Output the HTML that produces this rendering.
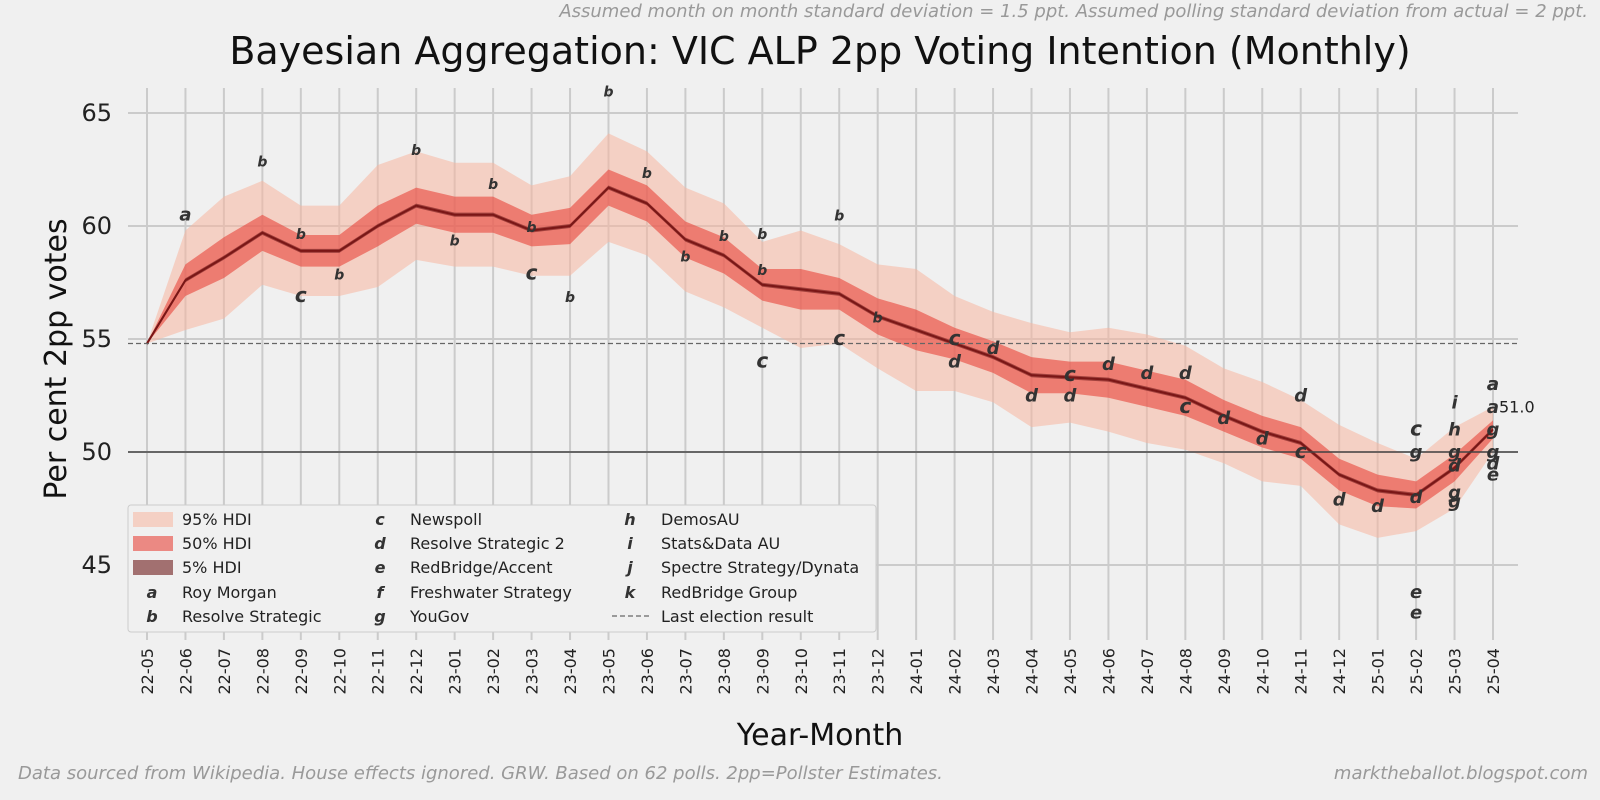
<!DOCTYPE html>
<html><head><meta charset="utf-8">
<style>
html,body{margin:0;padding:0;background:#f0f0f0;overflow:hidden;width:1600px;height:800px;}
svg{display:block;font-family:"DejaVu Sans","Liberation Sans",sans-serif;}
</style></head>
<body>
<svg id="chart" width="1600" height="800" viewBox="0 0 1600 800">
<rect width="1600" height="800" fill="#f0f0f0"/>
<text x="1588" y="17" text-anchor="end" font-size="18" font-style="oblique" fill="#999">Assumed month on month standard deviation = 1.5 ppt. Assumed polling standard deviation from actual = 2 ppt.</text>
<text x="820" y="64" text-anchor="middle" font-size="38" fill="#111">Bayesian Aggregation: VIC ALP 2pp Voting Intention (Monthly)</text>
<text transform="translate(66,359) rotate(-90)" text-anchor="middle" font-size="30" fill="#111">Per cent 2pp votes</text>
<text x="820" y="745" text-anchor="middle" font-size="30" fill="#111">Year-Month</text>
<text x="18" y="779" font-size="18" font-style="oblique" fill="#999">Data sourced from Wikipedia. House effects ignored. GRW. Based on 62 polls. 2pp=Pollster Estimates.</text>
<text x="1588" y="779" text-anchor="end" font-size="18" font-style="oblique" fill="#999">marktheballot.blogspot.com</text>
<g id="grid"></g><g id="bands"></g><g id="polls"></g><g id="axes"></g>
</svg>
<script>
const months=["22-05","22-06","22-07","22-08","22-09","22-10","22-11","22-12","23-01","23-02","23-03","23-04","23-05","23-06","23-07","23-08","23-09","23-10","23-11","23-12","24-01","24-02","24-03","24-04","24-05","24-06","24-07","24-08","24-09","24-10","24-11","24-12","25-01","25-02","25-03","25-04"];
const median=[54.8,57.6,58.6,59.7,58.9,58.9,60.0,60.9,60.5,60.5,59.8,60.0,61.7,61.0,59.4,58.7,57.4,57.2,57.0,56.0,55.4,54.8,54.2,53.4,53.3,53.2,52.8,52.4,51.6,50.9,50.4,49.0,48.3,48.1,49.3,51.0];
const hw95=[0,2.2,2.7,2.3,2.0,2.0,2.7,2.4,2.3,2.3,2.0,2.2,2.4,2.3,2.3,2.3,1.9,2.6,2.2,2.3,2.7,2.1,2.0,2.3,2.0,2.3,2.4,2.3,2.1,2.2,1.9,2.2,2.1,1.6,1.8,1.0];
const hw50=[0,0.7,0.9,0.8,0.7,0.7,0.9,0.8,0.8,0.8,0.7,0.8,0.8,0.8,0.8,0.8,0.7,0.9,0.7,0.8,0.9,0.7,0.7,0.8,0.7,0.8,0.8,0.8,0.7,0.7,0.7,0.7,0.7,0.6,0.6,0.4];
const hw5=0.09;
const yTicks=[45,50,55,60,65];
const pollMonth=["22-06","22-08","22-09","22-10","22-12","23-01","23-02","23-03","23-04","23-05","23-06","23-07","23-08","23-09","23-09","23-11","23-12","22-09","23-03","23-09","23-11","24-02","24-05","24-08","24-11","25-02","24-02","24-03","24-04","24-05","24-06","24-07","24-08","24-09","24-10","24-11","24-12","25-01","25-02","25-02","25-02","25-02","25-03","25-03","25-03","25-03","25-03","25-03","25-04","25-04","25-04","25-04","25-04","25-04","25-04"];
const pollValue=[60.5,62.9,59.7,57.9,63.4,59.4,61.9,60.0,56.9,66.0,62.4,58.7,59.6,59.7,58.1,60.5,56.0,56.9,57.9,54.0,55.0,55.0,53.4,52.0,50.0,51.0,54.0,54.6,52.5,52.5,53.9,53.5,53.5,51.5,50.6,52.5,47.9,47.6,48.0,50.0,43.8,42.9,52.2,51.0,50.0,49.4,48.2,47.8,53.0,53.0,52.0,51.0,50.0,49.5,49.0];
const pollCode=["a","b","b","b","b","b","b","b","b","b","b","b","b","b","b","b","b","c","c","c","c","c","c","c","c","c","d","d","d","d","d","d","d","d","d","d","d","d","d","g","e","e","i","h","g","d","g","g","a","a","a","g","g","d","e"];
const X0=147,X1=1493,Y0=113;
const xs=i=>X0+i*(X1-X0)/(months.length-1);
const ys=v=>Y0+(65-v)*22.6;
const NS="http://www.w3.org/2000/svg";
function mk(tag,attrs,parent,text){const e=document.createElementNS(NS,tag);for(const k in attrs)e.setAttribute(k,attrs[k]);if(text!==undefined)e.textContent=text;parent.appendChild(e);return e;}
const grid=document.getElementById('grid'),bands=document.getElementById('bands'),polls=document.getElementById('polls'),axes=document.getElementById('axes');
months.forEach((m,i)=>{
 const l=mk('line',{x1:xs(i),x2:xs(i),y1:88,y2:640,stroke:'#cbcbcb','stroke-width':2},grid);
 
 
 const t=mk('text',{transform:`translate(${xs(i)+6},${648}) rotate(-90)`,'text-anchor':'end','font-size':16,fill:'#222'},axes,m);
 
 
});
yTicks.forEach(v=>{
 const l=mk('line',{x1:128,x2:1518,y1:ys(v),y2:ys(v),stroke:'#cbcbcb','stroke-width':2},grid);
 
 
 const t=mk('text',{x:112,y:ys(v)+8,'text-anchor':'end','font-size':24,fill:'#222'},axes,v);
 
 
});
function band(hw,mult,fill,op,name){
 let up=median.map((v,i)=>`${xs(i)},${ys(v+hw[i]*mult)}`);
 let dn=median.map((v,i)=>`${xs(i)},${ys(v-hw[i]*mult)}`).reverse();
 const p=mk('polygon',{points:up.concat(dn).join(' '),fill:fill,'fill-opacity':op},bands);
 
 
}
band(hw95,1,'#f7b7a0',0.55,'band-95-hdi');
band(hw50,1,'#e8443a',0.6,'band-50-hdi');
band(median.map(()=>hw5),1,'#6e1a1a',0.6,'band-5-hdi');
const ml=mk('polyline',{points:median.map((v,i)=>`${xs(i)},${ys(v)}`).join(' '),fill:'none',stroke:'#7a1616','stroke-width':2},bands);


const l50=mk('line',{x1:128,x2:1518,y1:ys(50),y2:ys(50),stroke:'#444','stroke-width':1.5},bands);


const le=mk('line',{x1:128,x2:1518,y1:ys(54.8),y2:ys(54.8),stroke:'#666','stroke-width':1.2,'stroke-dasharray':'5,3'},bands);


pollCode.forEach((c,k)=>{
 const i=months.indexOf(pollMonth[k]);
 const t=mk('text',{x:xs(i),y:ys(pollValue[k])+6,'text-anchor':'middle','font-size':c==='b'?14:(c==='c'?20:18),'font-style':'oblique','font-weight':'bold',fill:'#333'},polls,c);
 
 
});
const endl=mk('text',{x:xs(35)+6,y:ys(median[35])-17,'font-size':16,fill:'#222'},polls,median[35].toFixed(1));


const lg=mk('g',{},axes);


mk('rect',{x:128,y:505,width:748,height:127,fill:'#f0f0f0',stroke:'#ccc',rx:3},lg);
const rows=[519,543,567,592,616];
const sw=[['#f7b7a0',0.55,'95% HDI'],['#e8443a',0.6,'50% HDI'],['#6e1a1a',0.6,'5% HDI']];
sw.forEach((s,r)=>{
 const e=mk('rect',{x:133,y:rows[r]-7,width:40,height:15,fill:s[0],'fill-opacity':s[1]},lg);
 
 
 const t=mk('text',{x:182,y:rows[r]+6,'font-size':16,fill:'#222'},lg,s[2]);
 
 
});
const items=[[0,3,'a','Roy Morgan'],[0,4,'b','Resolve Strategic'],[1,0,'c','Newspoll'],[1,1,'d','Resolve Strategic 2'],[1,2,'e','RedBridge/Accent'],[1,3,'f','Freshwater Strategy'],[1,4,'g','YouGov'],[2,0,'h','DemosAU'],[2,1,'i','Stats&Data AU'],[2,2,'j','Spectre Strategy/Dynata'],[2,3,'k','RedBridge Group']];
const colL=[152,380,630],colT=[182,410,661];
items.forEach(it=>{
 const m=mk('text',{x:colL[it[0]],y:rows[it[1]]+6,'text-anchor':'middle','font-size':16,'font-style':'oblique','font-weight':'bold',fill:'#333'},lg,it[2]);
 
 
 const t=mk('text',{x:colT[it[0]],y:rows[it[1]]+6,'font-size':16,fill:'#222'},lg,it[3]);
 
 
});
const dl=mk('line',{x1:612,x2:650,y1:rows[4],y2:rows[4],stroke:'#666','stroke-width':1.2,'stroke-dasharray':'5,3'},lg);


const dt=mk('text',{x:661,y:rows[4]+6,'font-size':16,fill:'#222'},lg,'Last election result');


</script>
</body></html>
